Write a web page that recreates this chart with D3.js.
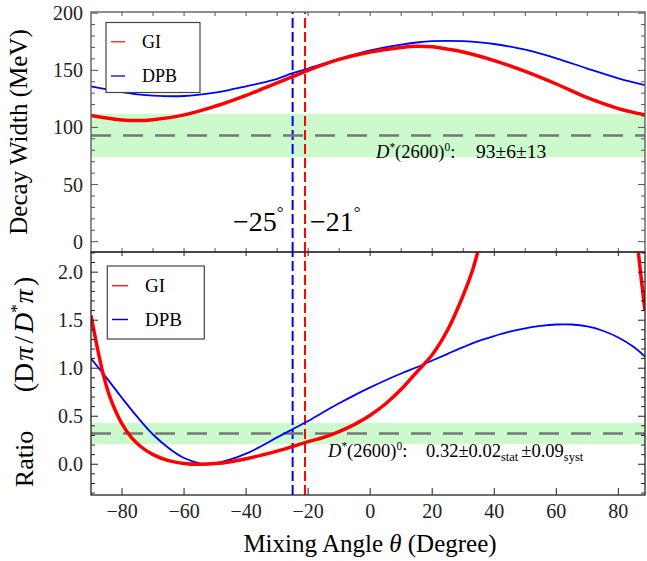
<!DOCTYPE html>
<html>
<head>
<meta charset="utf-8">
<script src="https://cdn.jsdelivr.net/npm/d3@7"></script>
<style>
    body { margin: 0; background: #fff; }
    svg { font-family: 'Liberation Serif', 'Times New Roman', serif; }
    text { white-space: pre; }
</style>
</head>
<body>
<div id="chart"></div>
<script>
// values (angles in degrees)

// top panel: decay width (MeV)
const thetaWidth = [-90, -80, -75, -70, -60, -50, -45, -40, -35, -30, -25, -20, -10, 0, 10, 15, 20, 25, 30, 40, 50, 60, 70, 80, 88.6];
const giWidth = [110.5, 106.5, 106, 106.8, 111, 118.5, 123, 128, 133.5, 139, 144.5, 150, 159.5, 166, 170, 171, 170.5, 168.5, 166, 158.5, 149, 138, 126, 116.5, 111];
const dpbWidth = [136, 131, 129, 127.8, 127.5, 130.5, 133, 136, 139, 142.5, 147.5, 151.5, 160, 167.5, 172.5, 174.3, 175.5, 175.8, 175.5, 173, 168, 160.5, 151.5, 143, 137];

// bottom panel: ratio D pi / D* pi
const thetaGiRatio = [-90, -88, -86, -84, -82, -80, -77, -74, -70, -65, -60, -55, -50, -45, -40, -35, -30, -25, -20, -15, -10, -5, 0, 5, 10, 15, 20, 25, 30, 33, 35, 37, 39];
const giRatio = [1.55, 1.22, 0.93, 0.71, 0.55, 0.42, 0.28, 0.185, 0.1, 0.038, 0.009, 0.0, 0.007, 0.027, 0.058, 0.095, 0.137, 0.185, 0.235, 0.28, 0.34, 0.415, 0.51, 0.63, 0.78, 0.96, 1.14, 1.40, 1.76, 2.02, 2.25, 2.53, 2.88];
// GI branch coming back down at the right edge
const thetaGiRatioB = [85, 86.4, 87.5, 88.6];
const giRatioB = [2.75, 2.23, 1.9, 1.6];

const thetaDpbRatio = [-90, -85, -80, -75, -70, -65, -60, -55, -53, -50, -45, -40, -35, -30, -25, -20, -15, -10, -5, 0, 5, 10, 15, 20, 25, 30, 35, 40, 45, 50, 55, 60, 65, 70, 75, 80, 85, 88.6];
const dpbRatio = [1.10, 0.90, 0.69, 0.49, 0.31, 0.17, 0.065, 0.01, 0.0, 0.01, 0.05, 0.11, 0.19, 0.28, 0.365, 0.45, 0.545, 0.635, 0.72, 0.80, 0.875, 0.945, 1.01, 1.08, 1.15, 1.22, 1.285, 1.335, 1.38, 1.415, 1.44, 1.455, 1.455, 1.435, 1.39, 1.32, 1.22, 1.12];

// measurement D*(2600)0 and fitted mixing angles
const widthMeas = { value: 93, low: 74, high: 112 };
const ratioMeas = { value: 0.32, low: 0.21, high: 0.43 };
const mixAngles = [
    { theta: -25, color: '#0000ff', label: '\u221225' },
    { theta: -21, color: '#ff0000', label: '\u221221' }
];

const xTicks = [-80, -60, -40, -20, 0, 20, 40, 60, 80];
const widthTicks = [0, 50, 100, 150, 200];
const ratioTicks = [0, 0.5, 1.0, 1.5, 2.0];

const svg = d3.select('#chart').append('svg')
    .attr('width', 647)
    .attr('height', 561);

const x = d3.scaleLinear().domain([-90, 88.6]).range([91, 645]);
const yTop = d3.scaleLinear().domain([-9, 201]).range([252, 12]);
const yBot = d3.scaleLinear().domain([-0.32, 2.21]).range([495, 252]);

const defs = svg.append('defs');
defs.append('clipPath').attr('id', 'clipTop').append('rect')
    .attr('x', x.range()[0]).attr('y', yTop.range()[1])
    .attr('width', x.range()[1] - x.range()[0])
    .attr('height', yTop.range()[0] - yTop.range()[1]);
defs.append('clipPath').attr('id', 'clipBot').append('rect')
    .attr('x', x.range()[0]).attr('y', yBot.range()[1])
    .attr('width', x.range()[1] - x.range()[0])
    .attr('height', yBot.range()[0] - yBot.range()[1]);

function zip(xs, ys) {
    return xs.map((t, i) => [t, ys[i]]);
}

function drawPanel(y, clipId, meas, curves) {
    const g = svg.append('g');
    const inner = g.append('g').attr('clip-path', `url(#${clipId})`);

    // green band
    inner.append('rect')
        .attr('x', x.range()[0])
        .attr('width', x.range()[1] - x.range()[0])
        .attr('y', y(meas.high))
        .attr('height', y(meas.low) - y(meas.high))
        .attr('fill', '#ccfacc');

    // vertical dashed lines
    mixAngles.forEach(m => {
        inner.append('line')
            .attr('x1', x(m.theta)).attr('x2', x(m.theta))
            .attr('y1', y.range()[0]).attr('y2', y.range()[1])
            .attr('stroke', m.color)
            .attr('stroke-width', 2)
            .attr('stroke-dasharray', '10,4');
    });

    // central value
    inner.append('line')
        .attr('x1', x.range()[0]).attr('x2', x.range()[1])
        .attr('y1', y(meas.value)).attr('y2', y(meas.value))
        .attr('stroke', '#777')
        .attr('stroke-width', 2.5)
        .attr('stroke-dasharray', '20,12');

    const line = d3.line()
        .x(d => x(d[0]))
        .y(d => y(d[1]))
        .curve(d3.curveCatmullRom.alpha(0.5));

    curves.forEach(c => {
        inner.append('path')
            .datum(c.data)
            .attr('d', line)
            .attr('fill', 'none')
            .attr('stroke', c.color)
            .attr('stroke-width', c.width);
    });
    return g;
}

function drawFrame(g, y, opt) {
    const [x0, x1] = x.range();
    const [y0, y1] = y.range();
    g.append('rect')
        .attr('x', x0).attr('y', y1)
        .attr('width', x1 - x0).attr('height', y0 - y1)
        .attr('fill', 'none')
        .attr('stroke', opt.frame)
        .attr('stroke-width', 1.3);

    const tk = g.append('g').attr('stroke', opt.frame).attr('stroke-width', 1);
    opt.yMinor.forEach(v => {
        const len = opt.yMajor.some(m => Math.abs(m - v) < 1e-6) ? 7 : 4;
        tk.append('line').attr('x1', x0).attr('x2', x0 + len).attr('y1', y(v)).attr('y2', y(v));
        tk.append('line').attr('x1', x1).attr('x2', x1 - len).attr('y1', y(v)).attr('y2', y(v));
    });
    opt.xTop.forEach(v => {
        tk.append('line').attr('x1', x(v)).attr('x2', x(v)).attr('y1', y1).attr('y2', y1 + opt.xTopLen);
    });
    opt.xBottom.forEach(v => {
        tk.append('line').attr('x1', x(v)).attr('x2', x(v)).attr('y1', y0).attr('y2', y0 - opt.xBottomLen);
    });

    g.append('g').selectAll('text')
        .data(opt.yMajor)
        .join('text')
        .attr('x', 83)
        .attr('y', d => y(d))
        .attr('dy', '0.35em')
        .attr('text-anchor', 'end')
        .attr('font-size', 20)
        .attr('fill', '#222')
        .text(opt.fmt);
}

function drawLegend(g, box) {
    g.append('rect')
        .attr('x', box.x).attr('y', box.y)
        .attr('width', box.w).attr('height', box.h)
        .attr('fill', '#fff')
        .attr('stroke', '#444')
        .attr('stroke-width', 1.2);
    box.items.forEach(it => {
        g.append('line')
            .attr('x1', box.lx0).attr('x2', box.lx1)
            .attr('y1', it.y).attr('y2', it.y)
            .attr('stroke', it.color)
            .attr('stroke-width', 1.5);
        g.append('text')
            .attr('x', box.tx)
            .attr('y', it.y + box.fs * 0.34)
            .attr('font-size', box.fs)
            .text(it.name);
    });
}

function measNote(g, xPos, yPos, size) {
    const t = g.append('text')
        .attr('x', xPos)
        .attr('y', yPos)
        .attr('font-size', size);
    t.append('tspan').attr('font-style', 'italic').text('D');
    t.append('tspan').attr('font-size', size * 0.62).attr('dy', -7).text('*');
    t.append('tspan').attr('dy', 7).text('(2600)');
    t.append('tspan').attr('font-size', size * 0.62).attr('dy', -7).text('0');
    t.append('tspan').attr('dy', 7).text(':');
    return t;
}

// ---------- top panel ----------
const gTop = drawPanel(yTop, 'clipTop', widthMeas, [
    { data: zip(thetaWidth, dpbWidth), color: '#0000ff', width: 1.8 },
    { data: zip(thetaWidth, giWidth), color: '#ff0000', width: 3.5 }
]);
drawFrame(gTop, yTop, {
    frame: '#555',
    yMajor: widthTicks,
    yMinor: d3.range(0, 201, 10),
    xTop: d3.range(-80, 81, 10),
    xTopLen: 4,
    xBottom: d3.range(-80, 81, 10),
    xBottomLen: 4,
    fmt: d => d
});
drawLegend(gTop, {
    x: 106, y: 22.5, w: 94, h: 70, lx0: 111, lx1: 125, tx: 142, fs: 18,
    items: [
        { name: 'GI', color: '#ff3030', y: 41.7 },
        { name: 'DPB', color: '#2020ff', y: 76 }
    ]
});

const noteTop = measNote(gTop, 376, 158, 18.5);
noteTop.append('tspan').attr('x', 476).attr('font-size', 19.5).text('93\u00b16\u00b113');

mixAngles.forEach((m, i) => {
    const t = gTop.append('text')
        .attr('x', i === 0 ? 233 : 310)
        .attr('y', 231)
        .attr('font-size', 28)
        .text(m.label);
    t.append('tspan').attr('font-size', 17).attr('dy', -13).text('\u00b0');
});

gTop.append('text')
    .attr('transform', 'translate(26.5,132) rotate(-90)')
    .attr('text-anchor', 'middle')
    .attr('font-size', 25)
    .text('Decay Width (MeV)');

// ---------- bottom panel ----------
const gBot = drawPanel(yBot, 'clipBot', ratioMeas, [
    { data: zip(thetaDpbRatio, dpbRatio), color: '#0000ff', width: 1.8 },
    { data: zip(thetaGiRatio, giRatio), color: '#ff0000', width: 3.5 },
    { data: zip(thetaGiRatioB, giRatioB), color: '#ff0000', width: 3.5 }
]);
drawFrame(gBot, yBot, {
    frame: '#222',
    yMajor: ratioTicks,
    yMinor: d3.range(-3, 23).map(v => v / 10),
    xTop: xTicks,
    xTopLen: 4,
    xBottom: xTicks,
    xBottomLen: 7,
    fmt: d3.format('.1f')
});
drawLegend(gBot, {
    x: 107.3, y: 266, w: 97, h: 73, lx0: 112, lx1: 128, tx: 145, fs: 19,
    items: [
        { name: 'GI', color: '#ff2020', y: 285.7 },
        { name: 'DPB', color: '#0000cc', y: 319.5 }
    ]
});

const noteBot = measNote(gBot, 328, 457, 18.5);
noteBot.append('tspan').attr('x', 426).text('0.32\u00b10.02');
noteBot.append('tspan').attr('font-size', 12.5).attr('dy', 4).text('stat');
noteBot.append('tspan').attr('dx', 3).attr('dy', -4).text('\u00b10.09');
noteBot.append('tspan').attr('font-size', 12.5).attr('dy', 4).text('syst');

gBot.append('text')
    .attr('transform', 'translate(33,459) rotate(-90)')
    .attr('text-anchor', 'middle')
    .attr('font-size', 26)
    .text('Ratio');

const yLabBot = gBot.append('text')
    .attr('transform', 'translate(33,334.5) rotate(-90)')
    .attr('text-anchor', 'middle')
    .attr('font-size', 28);
yLabBot.append('tspan').text('(D');
yLabBot.append('tspan').attr('dx', 2).attr('font-style', 'italic').text('\u03c0');
yLabBot.append('tspan').attr('dx', 3).text('/');
yLabBot.append('tspan').attr('dx', 3).attr('font-style', 'italic').text('D');
yLabBot.append('tspan').attr('font-size', 17).attr('dy', -11).text('*');
yLabBot.append('tspan').attr('dx', 1).attr('font-style', 'italic').attr('dy', 11).text('\u03c0');
yLabBot.append('tspan').attr('dx', 3).text(')');

// x tick labels and title
svg.append('g').selectAll('text')
    .data(xTicks)
    .join('text')
    .attr('x', d => x(d))
    .attr('y', 518)
    .attr('text-anchor', 'middle')
    .attr('font-size', 20)
    .attr('fill', '#222')
    .text(d => d < 0 ? '\u2212' + Math.abs(d) : d);

const xLab = svg.append('text')
    .attr('x', 370)
    .attr('y', 552)
    .attr('text-anchor', 'middle')
    .attr('font-size', 25);
xLab.append('tspan').text('Mixing Angle ');
xLab.append('tspan').attr('font-style', 'italic').text('\u03b8');
xLab.append('tspan').text(' (Degree)');
</script>
</body>
</html>
